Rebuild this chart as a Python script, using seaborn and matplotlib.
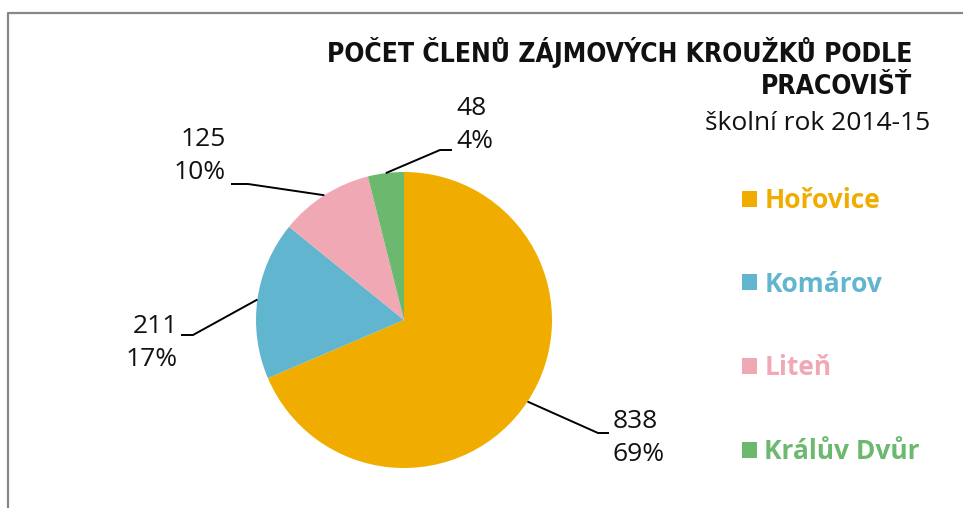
import matplotlib
matplotlib.use("Agg")
import matplotlib.pyplot as plt
import numpy as np
import seaborn as sns
from matplotlib.lines import Line2D

# data
places = ["Hořovice", "Komárov", "Liteň", "Králův Dvůr"]
members = [838, 211, 125, 48]
colors = ["#F0AD00", "#62B5CF", "#F0A8B4", "#6CB86F"]

title = "POČET ČLENŮ ZÁJMOVÝCH KROUŽKŮ PODLE\nPRACOVIŠŤ"
subtitle = "školní rok 2014-15"

sns.set_theme(style="white")
plt.rcParams["font.family"] = ["Open Sans", "DejaVu Sans"]

W, H = 963, 508
fig = plt.figure(figsize=(W / 100, H / 100), dpi=100)
ax = fig.add_axes([0, 0, 1, 1])

# pie in pixel coordinates (y measured from bottom)
cx, cy, r = 404, H - 320, 148
palette = sns.color_palette(colors)
wedges, _ = ax.pie(members, colors=palette, startangle=90, counterclock=False,
                   center=(cx, cy), radius=r, frame=True,
                   wedgeprops=dict(linewidth=0))
ax.set_xlim(0, W)
ax.set_ylim(0, H)
ax.set_aspect("equal")
ax.axis("off")

total = sum(members)
# label layout: (elbow x, elbow y from top, line end x, text x, text center y from top, ha)
layout = [
    (598, 433, 609, 613, 438, "left"),
    (193, 335, 181, 178, 343, "right"),
    (248, 184, 231, 226, 156, "right"),
    (440, 150, 452, 456, 125, "left"),
]
for w, v, (ex, ey, lx, tx, ty, ha) in zip(wedges, members, layout):
    mid = np.deg2rad((w.theta1 + w.theta2) / 2)
    px, py = cx + r * np.cos(mid), cy + r * np.sin(mid)
    ax.plot([px, ex, lx], [py, H - ey, H - ey], color="black", lw=1.4,
            solid_capstyle="butt")
    ax.text(tx, H - ty, f"{v}\n{round(100 * v / total):.0f}%", ha=ha,
            va="center", fontsize=19, linespacing=1.38, color="#111111")

# title
fig.text(912, H - 68, title, transform=None, ha="right", va="center",
         fontsize=19, fontweight="bold", fontstretch="condensed",
         linespacing=1.3, family=["DejaVu Sans"], color="#111111")
fig.text(930, H - 123, subtitle, transform=None, ha="right", va="center",
         fontsize=19, color="#111111")

# legend
leg = ax.legend(wedges, places, loc="upper left",
                bbox_to_anchor=(742 / W, 1 - 187 / H),
                bbox_transform=fig.transFigure, frameon=False, fontsize=19,
                handlelength=0.55, handleheight=0.55, handletextpad=0.3,
                labelspacing=2.15, borderpad=0, borderaxespad=0)
for txt, c in zip(leg.get_texts(), palette):
    txt.set_color(c)
    txt.set_fontweight("bold")

# outer frame (left and top edges visible)
fig.add_artist(Line2D([8 / W, 8 / W, 1], [0, 1 - 13 / H, 1 - 13 / H],
                      color="#878787", lw=1.6, transform=fig.transFigure))

fig.savefig("out.png", dpi=100)
